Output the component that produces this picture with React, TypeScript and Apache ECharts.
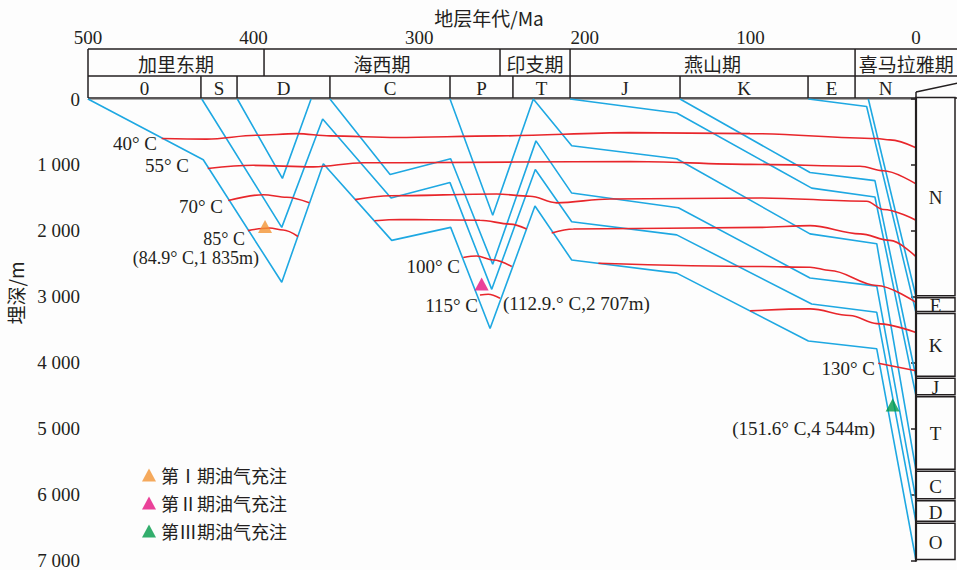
import React, { useEffect, useRef } from "react";
import * as echarts from "echarts";

const SERIF = "Liberation Serif, Times New Roman, serif";
const CJK = "Noto Sans CJK SC, Liberation Serif, serif";
const INK = "#231f20";
const BLUE = "#1ea8e2";
const RED = "#e8262b";

// Geological time (Ma) header
const ageTicks = [500, 400, 300, 200, 100, 0];
const eraNames = ["加里东期", "海西期", "印支期", "燕山期", "喜马拉雅期"];
const eraStarts = [500, 393.7, 251.2, 208.9, 36.8];
const periodNames = ["0", "S", "D", "C", "P", "T", "J", "K", "E", "N"];
const periodStarts = [500, 431.8, 410.0, 353.9, 281.4, 243.4, 208.9, 142.5, 65.2, 36.8];
const headerEnd = -25;

// Present-day stratigraphic column (depth tops, m)
const columnNames = ["N", "E", "K", "J", "T", "C", "D", "O"];
const columnTops = [0, 3000, 3240, 4220, 4500, 5630, 6080, 6420];
const columnBottom = 7000;

// Burial paths of horizon bases: [age Ma, depth m]
const baseO = [[500, 0], [430.4, 921], [383.0, 2779], [357.9, 981], [316.6, 2144], [281.0, 1947], [257.2, 3482], [230.1, 1624], [207.9, 2442], [144.5, 2641], [65.0, 3670], [23.7, 3789], [0, 7000]];
const baseS = [[431.3, 0], [383.0, 1947], [358.3, 302], [317.0, 1501], [281.4, 1268], [256.2, 2887], [229.9, 1070], [207.9, 1862], [144.5, 2061], [63.0, 3110], [23.7, 3235], [0, 6420]];
const baseD = [[409.8, 0], [382.6, 1204], [365.3, 0]];
const baseC = [[353.9, 0], [317.6, 1144], [281.0, 906], [255.6, 2507], [229.5, 635], [207.9, 1427], [143.5, 1649], [64.0, 2715], [23.7, 2838], [0, 6078]];
const baseP = [[281.4, 0], [255.6, 1764], [231.1, 0], [207.9, 709], [144.5, 906], [64.0, 2046], [23.7, 2195], [0, 5632]];
const baseJ = [[208.9, 0], [144.5, 212], [63.0, 1352], [24.8, 1486], [0, 4503]];
const baseK = [[142.5, 0], [64.0, 1115], [24.8, 1238], [0, 4220]];
const baseE = [[65.0, 0], [29.8, 114], [0, 3240]];
const baseN = [[28.8, 0], [0, 3000]];

// Isotherms: [age Ma, depth m]
const t40 = [[455.5, 599], [428.3, 609], [398.1, 550], [374.0, 525], [353.9, 560], [313.6, 584], [253.2, 560], [172.7, 510], [100.2, 525], [23.7, 599], [15.7, 620], [0, 740]];
const t55 = [[427.7, 1055], [400.2, 1006], [363.9, 1030], [333.8, 966], [311.6, 966], [172.7, 947], [100.2, 991], [33.8, 1021], [19.7, 1089], [0, 1288]];
const t70a = [[415.3, 1541], [394.1, 1452], [380.0, 1490], [366.4, 1575]];
const t70b = [[338.8, 1526], [317.6, 1467], [253.2, 1441], [233.1, 1476], [217.0, 1575], [184.8, 1516], [94.2, 1501], [29.8, 1550], [19.7, 1675], [0, 1838]];
const t85a = [[403.4, 1996], [390.3, 1957], [382.2, 1987], [373.2, 2085]];
const t85b = [[327.1, 1847], [311.6, 1828], [293.5, 1832], [263.3, 1838], [245.2, 1898], [235.1, 1972]];
const t85c = [[220.0, 2031], [206.9, 1972], [94.2, 1947], [64.0, 1921], [33.8, 2046], [15.7, 2144], [0, 2392]];
const t100a = [[273.4, 2403], [265.3, 2382], [255.3, 2442], [244.1, 2541]];
const t100b = [[191.8, 2492], [94.2, 2541], [64.0, 2551], [51.9, 2601], [23.7, 2828], [0, 3086]];
const t115a = [[263.3, 2972], [258.3, 2962], [251.2, 3021]];
const t115b = [[100.2, 3214], [64.0, 3184], [39.9, 3284], [23.7, 3407], [0, 3541]];
const t130 = [[22.8, 4008], [0, 4121]];

// Hydrocarbon charge events
const chargeNames = ["第Ⅰ期油气充注", "第Ⅱ期油气充注", "第Ⅲ期油气充注"];
const chargeColors = ["#f29433", "#e5127f", "#009a48"];
const chargePoints = [[393.1, 1835], [262.3, 2707], [14.1, 4544]];

const horizons = [baseO, baseS, baseD, baseC, baseP, baseJ, baseK, baseE, baseN];
const isotherms = [t40, t55, t70a, t70b, t85a, t85b, t85c, t100a, t100b, t115a, t115b, t130];

const fmtDepth = (v: number) =>
  v >= 1000 ? `${Math.floor(v / 1000)} ${String(v % 1000).padStart(3, "0")}` : String(v);

const label = (text: string, x: number, y: number, align: string, font = SERIF, size = 19) => ({
  type: "text",
  x,
  y,
  style: { text, align, verticalAlign: "middle", fill: INK, font: `${size}px ${font}` },
  z: 20,
});

export default function App() {
  const ref = useRef<HTMLDivElement>(null);

  useEffect(() => {
    if (!ref.current) return;
    const chart = echarts.init(ref.current, undefined, { renderer: "svg" });

    const stroke = { stroke: INK, lineWidth: 1.5 };

    const eraData = eraStarts.map((s, i) => [s, i + 1 < eraStarts.length ? eraStarts[i + 1] : headerEnd]);
    const periodData = periodStarts.map((s, i) => [s, i + 1 < periodStarts.length ? periodStarts[i + 1] : 0]);

    const headerCell = (names: string[], y0: number, y1: number, font: string) => (params: any, api: any) => {
      const from = api.value(0);
      const to = api.value(1);
      const a = api.coord([from, y1]);
      const b = api.coord([to, y0]);
      return {
        type: "group",
        children: [
          { type: "line", shape: { x1: a[0], y1: a[1], x2: a[0], y2: b[1] }, style: stroke },
          {
            type: "text",
            x: (a[0] + b[0]) / 2,
            y: (a[1] + b[1]) / 2 + 1,
            style: { text: names[params.dataIndex], align: "center", verticalAlign: "middle", fill: INK, font },
          },
        ],
      };
    };

    const series: any[] = [];

    // header frame: outer lines, column cap
    series.push({
      type: "custom",
      xAxisIndex: 1,
      yAxisIndex: 1,
      clip: false,
      silent: true,
      data: [[0, 0]],
      renderItem: (_p: any, api: any) => {
        const l = api.coord([500, 49]);
        const r = api.coord([headerEnd, 0]);
        const mid = api.coord([500, 22])[1];
        const x0 = api.coord([0, 0])[0];
        return {
          type: "group",
          children: [
            { type: "line", shape: { x1: l[0], y1: l[1], x2: r[0] + 5, y2: l[1] }, style: stroke },
            { type: "line", shape: { x1: l[0], y1: mid, x2: r[0] + 5, y2: mid }, style: stroke },
            { type: "line", shape: { x1: l[0], y1: r[1], x2: r[0] + 5, y2: r[1] }, style: stroke },
            { type: "line", shape: { x1: x0, y1: r[1], x2: x0, y2: r[1] - 6 }, style: stroke },
            { type: "line", shape: { x1: x0, y1: r[1] - 6, x2: x0 + 44, y2: r[1] - 15.5 }, style: stroke },
          ],
        };
      },
    });
    series.push({
      type: "custom",
      xAxisIndex: 1,
      yAxisIndex: 1,
      clip: false,
      silent: true,
      data: eraData,
      renderItem: headerCell(eraNames, 22, 49, `19px ${CJK}`),
    });
    series.push({
      type: "custom",
      xAxisIndex: 1,
      yAxisIndex: 1,
      clip: false,
      silent: true,
      data: periodData,
      renderItem: headerCell(periodNames, 0, 22, `19px ${SERIF}`),
    });

    // present-day column on the right
    const colData = columnTops.map((t, i) => [t, i + 1 < columnTops.length ? columnTops[i + 1] : columnBottom]);
    series.push({
      type: "custom",
      xAxisIndex: 0,
      yAxisIndex: 0,
      clip: false,
      silent: true,
      z: 5,
      data: colData,
      renderItem: (params: any, api: any) => {
        const top = api.value(0);
        const bot = api.value(1);
        const a = api.coord([0, top]);
        const b = api.coord([0, bot]);
        const y0 = top === 0 ? a[1] - 1.5 : a[1] + 1;
        const y1 = b[1] - 1;
        return {
          type: "group",
          children: [
            { type: "rect", shape: { x: a[0], y: y0, width: 39, height: y1 - y0 }, style: { fill: "#fdfdfd", ...stroke } },
            { type: "line", shape: { x1: a[0], y1: y0, x2: a[0], y2: b[1] + 1 }, style: { stroke: INK, lineWidth: 2.2 } },
            {
              type: "text",
              x: a[0] + 19.5,
              y: (y0 + y1) / 2 + 1,
              style: { text: columnNames[params.dataIndex], align: "center", verticalAlign: "middle", fill: INK, font: `19px ${SERIF}` },
            },
          ],
        };
      },
    });

    horizons.forEach((d) =>
      series.push({
        type: "line",
        data: d,
        symbol: "none",
        silent: true,
        z: 3,
        lineStyle: { color: BLUE, width: 1.6 },
      })
    );
    isotherms.forEach((d) =>
      series.push({
        type: "line",
        data: d,
        symbol: "none",
        silent: true,
        smooth: 0.35,
        smoothMonotone: "x",
        z: 4,
        lineStyle: { color: RED, width: 1.6 },
      })
    );
    chargeNames.forEach((n, i) =>
      series.push({
        type: "scatter",
        name: n,
        data: [chargePoints[i]],
        symbol: "triangle",
        symbolSize: [14, 13],
        symbolOffset: [0, "50%"],
        z: 10,
        itemStyle: { color: chargeColors[i] },
      })
    );

    chart.setOption({
      animation: false,
      backgroundColor: "#fdfdfd",
      textStyle: { fontFamily: SERIF },
      grid: [
        { left: 88, right: 41, top: 99, bottom: 1 },
        { left: 88, right: 41, top: 49, height: 49 },
      ],
      xAxis: [
        {
          type: "value",
          gridIndex: 0,
          min: 0,
          max: 500,
          inverse: true,
          position: "bottom",
          axisLine: { show: true, lineStyle: { color: "#aaaaaa", width: 1 } },
          axisTick: { show: false },
          axisLabel: { show: false },
          splitLine: { show: false },
        },
        {
          type: "value",
          gridIndex: 1,
          min: 0,
          max: 500,
          interval: 100,
          inverse: true,
          position: "top",
          axisLine: { show: false },
          axisTick: { show: false },
          splitLine: { show: false },
          axisLabel: { margin: 2, color: INK, fontSize: 19, fontFamily: SERIF },
          data: ageTicks,
        },
      ],
      yAxis: [
        {
          type: "value",
          gridIndex: 0,
          min: 0,
          max: 7000,
          interval: 1000,
          inverse: true,
          axisLine: { show: true, lineStyle: { color: INK, width: 2 } },
          axisTick: { show: true, length: 5, lineStyle: { color: INK, width: 1.5 } },
          axisLabel: { margin: 8, color: INK, fontSize: 19, fontFamily: SERIF, formatter: fmtDepth },
          splitLine: { show: false },
        },
        { type: "value", gridIndex: 1, min: 0, max: 49, show: false },
      ],
      legend: {
        data: chargeNames,
        orient: "vertical",
        left: 137,
        top: 461,
        icon: "triangle",
        itemWidth: 14,
        itemHeight: 13,
        itemGap: 10,
        textStyle: { color: INK, fontSize: 18, fontFamily: CJK },
      },
      graphic: [
        label("地层年代/Ma", 489, 17, "center", CJK),
        { ...label("埋深/m", 15, 293, "center", CJK), rotation: Math.PI / 2 },
        label("40° C", 157, 143, "right"),
        label("55° C", 189, 165, "right"),
        label("70° C", 223, 206, "right"),
        label("85° C", 245, 238.5, "right", SERIF, 18),
        label("(84.9° C,1 835m)", 259, 257.5, "right", SERIF, 18),
        label("100° C", 460, 266, "right"),
        label("115° C", 478, 305, "right"),
        label("(112.9.° C,2 707m)", 503, 303, "left"),
        label("130° C", 875, 368, "right"),
        label("(151.6° C,4 544m)", 875, 428, "right"),
      ],
      series,
    });

    return () => chart.dispose();
  }, []);

  return (
    <div
      ref={ref}
      style={{ position: "fixed", left: 0, top: 0, width: 957, height: 570, background: "#fdfdfd" }}
    />
  );
}
